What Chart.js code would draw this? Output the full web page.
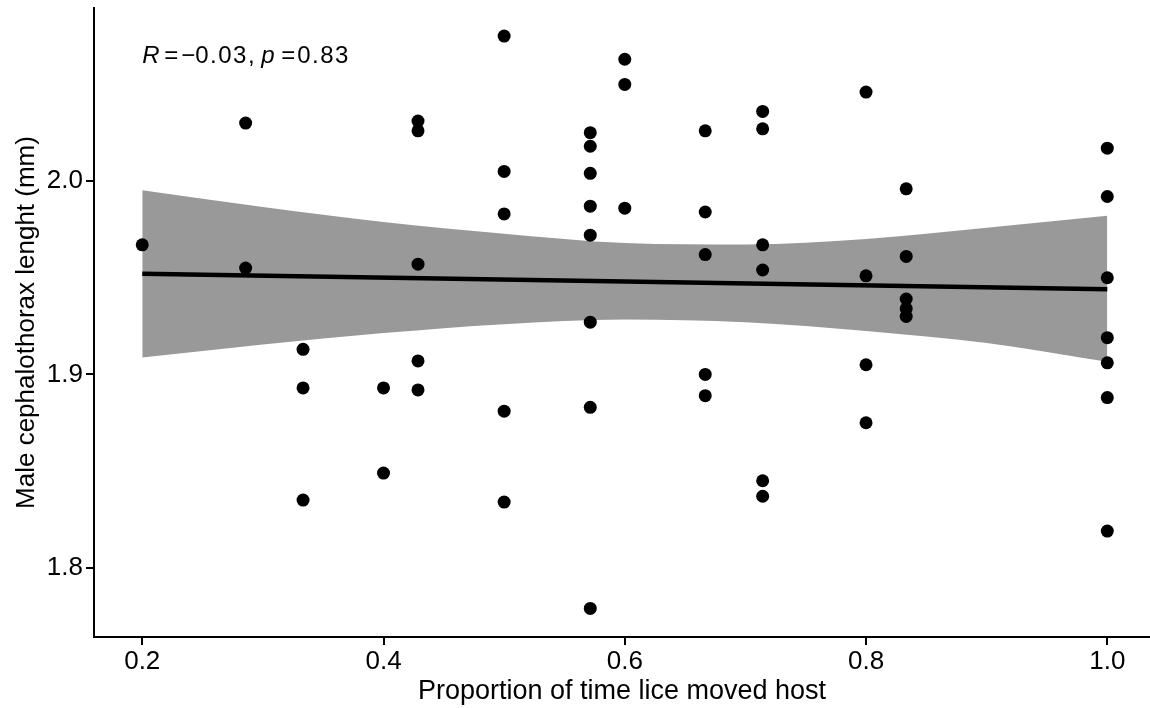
<!DOCTYPE html>
<html>
<head>
<meta charset="utf-8">
<script src="https://cdn.jsdelivr.net/npm/chart.js@4"></script>
<style>
  body { margin: 0; background: #fff; }
  canvas { display: block; }
</style>
</head>
<body>
<canvas id="liceChart" width="1150" height="708"></canvas>
<script>
// scatter points: proportion of time moved host vs male cephalothorax length
const proportion = [
  0.2,
  0.2857, 0.2857,
  0.3333, 0.3333, 0.3333,
  0.4, 0.4,
  0.4286, 0.4286, 0.4286, 0.4286, 0.4286,
  0.5, 0.5, 0.5, 0.5, 0.5,
  0.5714, 0.5714, 0.5714, 0.5714, 0.5714, 0.5714, 0.5714, 0.5714,
  0.6, 0.6, 0.6,
  0.6667, 0.6667, 0.6667, 0.6667, 0.6667,
  0.7143, 0.7143, 0.7143, 0.7143, 0.7143, 0.7143,
  0.8, 0.8, 0.8, 0.8,
  0.8333, 0.8333, 0.8333, 0.8333, 0.8333,
  1.0, 1.0, 1.0, 1.0, 1.0, 1.0, 1.0
];
const lengthMm = [
  1.967,
  2.030, 1.955,
  1.913, 1.893, 1.835,
  1.893, 1.849,
  2.031, 2.026, 1.957, 1.907, 1.892,
  2.075, 2.005, 1.983, 1.881, 1.834,
  2.025, 2.018, 2.004, 1.987, 1.972, 1.927, 1.883, 1.779,
  2.063, 2.050, 1.986,
  2.026, 1.984, 1.962, 1.900, 1.889,
  2.036, 2.027, 1.967, 1.954, 1.845, 1.837,
  2.046, 1.951, 1.905, 1.875,
  1.996, 1.961, 1.939, 1.934, 1.930,
  2.017, 1.992, 1.950, 1.919, 1.906, 1.888, 1.819
];

// regression line and confidence band
const fitX = [0.2, 1.0];
const fitY = [1.952, 1.9441];
const bandX = [0.2, 0.3, 0.4, 0.5, 0.6, 0.7, 0.8, 0.9, 1.0];
const bandUpper = [1.9953, 1.9866, 1.9788, 1.9728, 1.9680, 1.9672, 1.9700, 1.9758, 1.9820];
const bandLower = [1.9088, 1.9155, 1.9214, 1.9260, 1.9284, 1.9270, 1.9225, 1.9162, 1.9065];

const xTicks = [0.2, 0.4, 0.6, 0.8, 1.0];
const yTicks = [1.8, 1.9, 2.0];

const corrLabel = { x: 0.2, y: 2.0609, r: "−0.03", p: "0.83" };

const FONT = "'Liberation Sans', Arial, Helvetica, sans-serif";

const zip = (xs, ys) => xs.map((x, i) => ({ x: x, y: ys[i] }));

// stat_cor style text: italic R and p
const corrPlugin = {
  id: "corrText",
  afterDatasetsDraw(chart) {
    const ctx = chart.ctx;
    const x0 = chart.scales.x.getPixelForValue(corrLabel.x);
    const y0 = chart.scales.y.getPixelForValue(corrLabel.y);
    const pieces = [
      ["R", true, 0],
      ["=", false, 22],
      [corrLabel.r.charAt(0), false, 39],
      [corrLabel.r.slice(1) + ",", false, 53],
      ["p", true, 119],
      ["=", false, 139],
      [corrLabel.p, false, 155],
    ];
    ctx.save();
    ctx.fillStyle = "#000";
    ctx.textBaseline = "alphabetic";
    ctx.textAlign = "left";
    ctx.letterSpacing = "1.5px";
    pieces.forEach(([txt, ital, dx]) => {
      ctx.font = (ital ? "italic " : "") + "24px " + FONT;
      ctx.fillText(txt, x0 + dx, y0);
    });
    ctx.restore();
  },
};

// keep the plot area where the reference has it
const noPadding = (scale) => {
  scale.paddingTop = 0;
  scale.paddingBottom = 0;
  scale.paddingLeft = 0;
  scale.paddingRight = 0;
};

new Chart(document.getElementById("liceChart"), {
  type: "scatter",
  data: {
    datasets: [
      {
        label: "points",
        data: zip(proportion, lengthMm),
        backgroundColor: "#000",
        pointRadius: 6.5,
        pointBorderWidth: 0,
        order: 0,
      },
      {
        label: "fit",
        type: "line",
        data: zip(fitX, fitY),
        borderColor: "#000",
        borderWidth: 4.5,
        pointRadius: 0,
        fill: false,
        order: 1,
      },
      {
        label: "lower",
        type: "line",
        data: zip(bandX, bandLower),
        borderWidth: 0,
        borderColor: "rgba(0,0,0,0)",
        pointRadius: 0,
        cubicInterpolationMode: "monotone",
        fill: false,
        order: 3,
      },
      {
        label: "upper",
        type: "line",
        data: zip(bandX, bandUpper),
        borderWidth: 0,
        borderColor: "rgba(0,0,0,0)",
        backgroundColor: "#999999",
        pointRadius: 0,
        cubicInterpolationMode: "monotone",
        fill: "-1",
        order: 2,
      },
    ],
  },
  options: {
    responsive: false,
    animation: false,
    layout: { autoPadding: false, padding: { top: 8, right: 0, left: 0, bottom: 0 } },
    plugins: {
      legend: { display: false },
      tooltip: { enabled: false },
    },
    scales: {
      x: {
        type: "linear",
        min: 0.16,
        max: 1.0354,
        afterBuildTicks: (scale) => {
          scale.ticks = xTicks.map((v) => ({ value: v }));
        },
        afterFit: (scale) => {
          scale.height = 71;
          noPadding(scale);
        },
        ticks: {
          callback: (v) => v.toFixed(1),
          font: { family: FONT, size: 26 },
          color: "#000",
          padding: 1,
          maxRotation: 0,
        },
        grid: {
          drawOnChartArea: false,
          drawTicks: true,
          tickLength: 8,
          color: "#000",
          lineWidth: 2,
        },
        border: { display: true, color: "#000", width: 2 },
        title: {
          display: true,
          text: "Proportion of time lice moved host",
          font: { family: FONT, size: 27 },
          color: "#000",
          padding: { top: 0, bottom: 0 },
        },
      },
      y: {
        type: "linear",
        min: 1.7642,
        max: 2.0895,
        afterBuildTicks: (scale) => {
          scale.ticks = yTicks.map((v) => ({ value: v }));
        },
        afterFit: (scale) => {
          scale.width = 94;
          noPadding(scale);
        },
        ticks: {
          callback: (v) => v.toFixed(1),
          font: { family: FONT, size: 26 },
          color: "#000",
          padding: 3,
        },
        grid: {
          drawOnChartArea: false,
          drawTicks: true,
          tickLength: 8,
          color: "#000",
          lineWidth: 2,
        },
        border: { display: true, color: "#000", width: 2 },
        title: {
          display: true,
          text: "Male cephalothorax lenght (mm)",
          font: { family: FONT, size: 26 },
          color: "#000",
          padding: { top: 11, bottom: 0 },
        },
      },
    },
  },
  plugins: [corrPlugin],
});
</script>
</body>
</html>
